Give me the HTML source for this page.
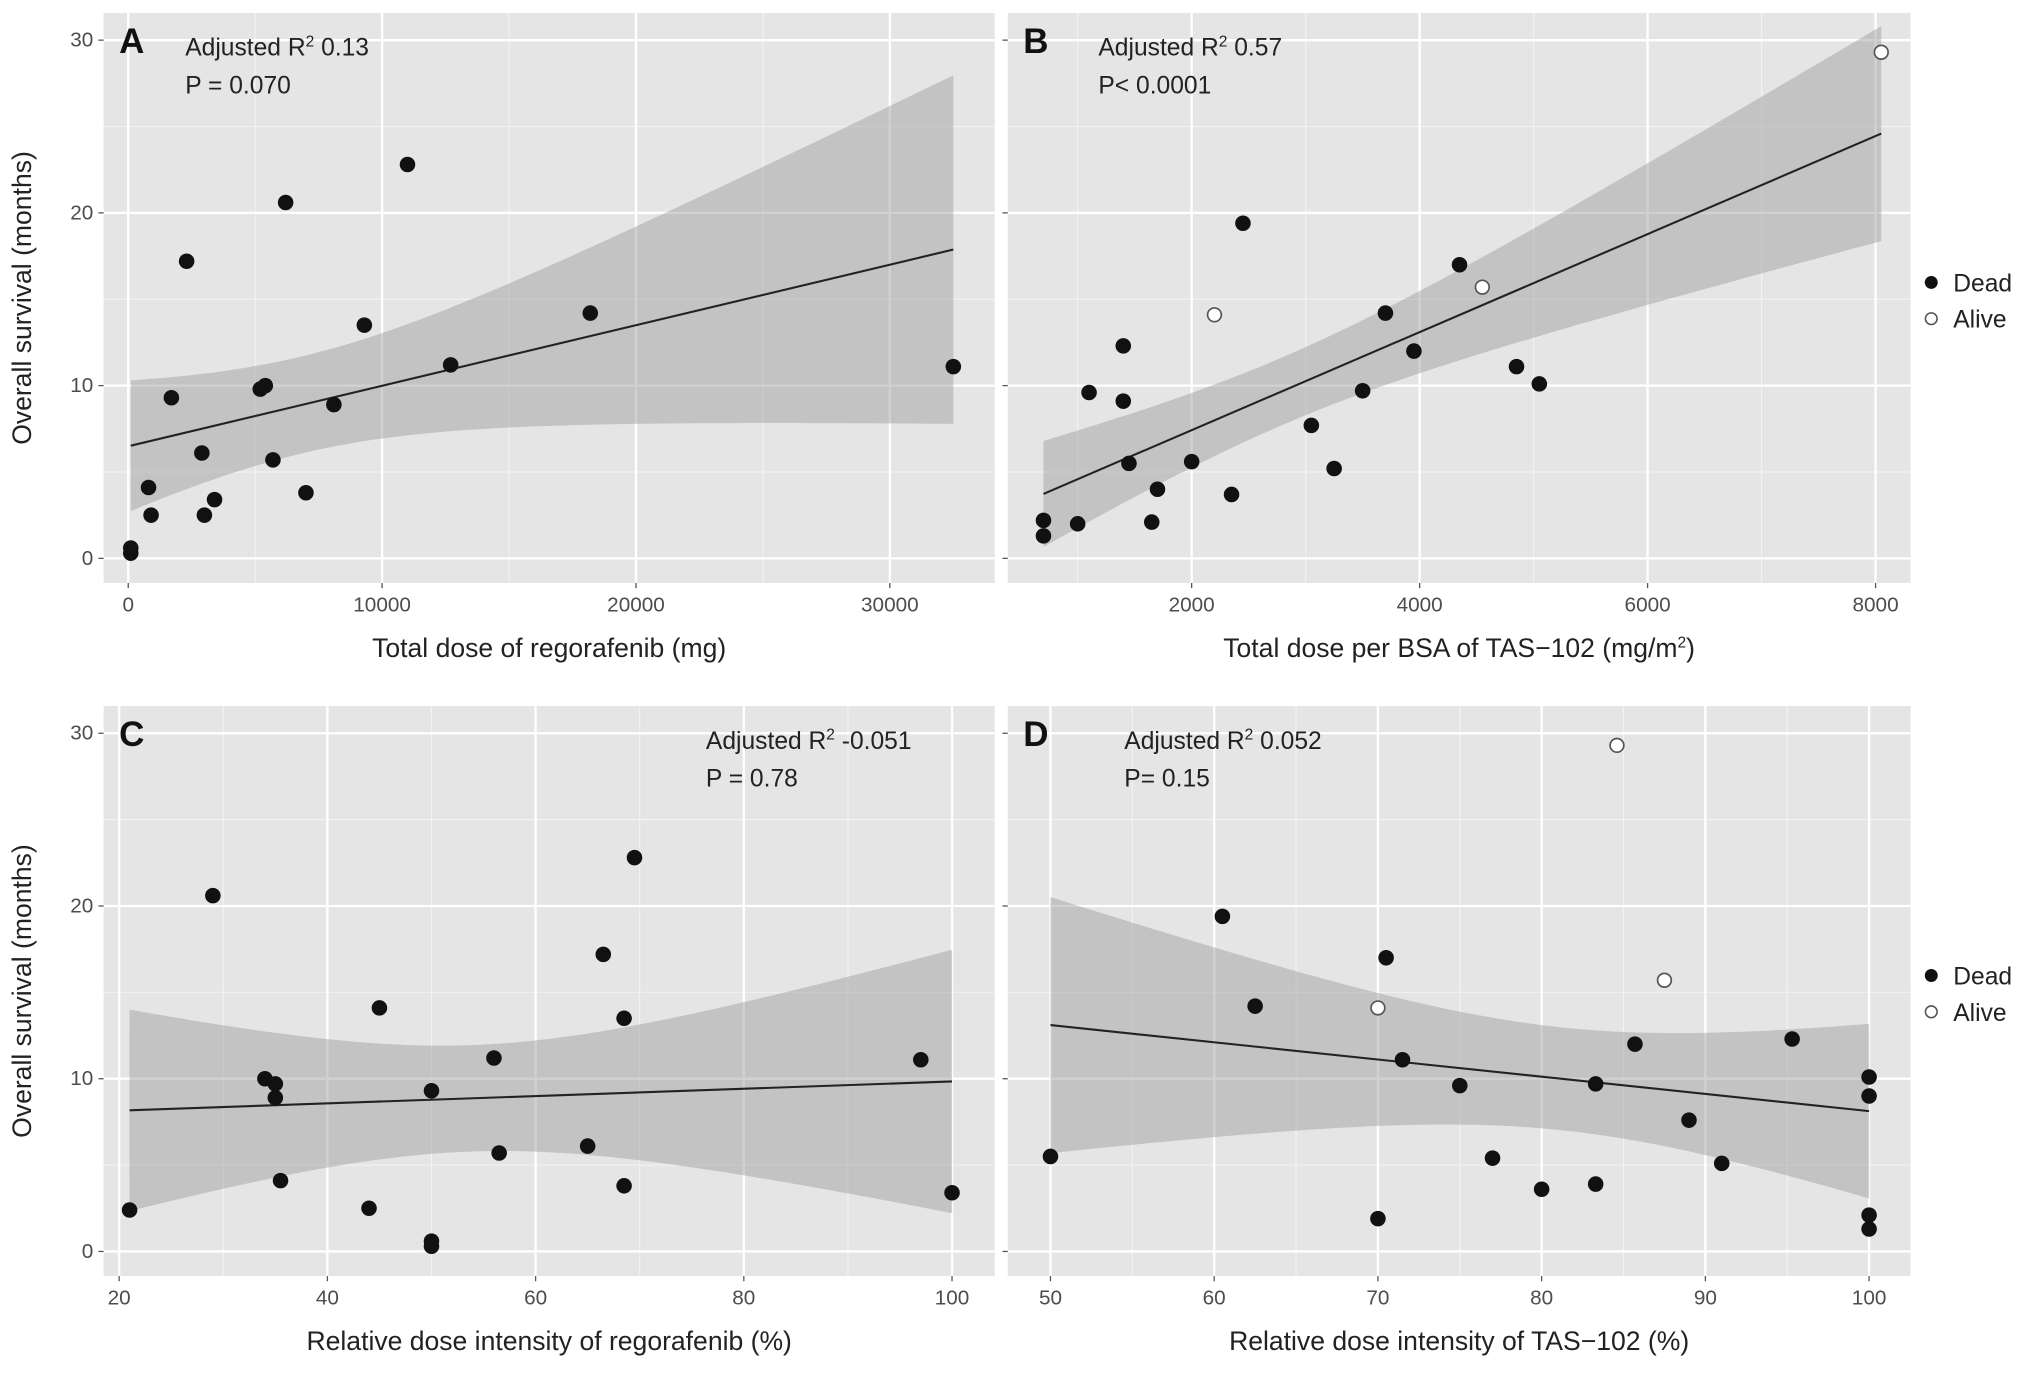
<!DOCTYPE html>
<html><head><meta charset="utf-8"><style>
html,body{margin:0;padding:0;background:#fff;}
svg{display:block;font-family:"Liberation Sans",sans-serif;}
</style></head><body>
<svg id="fig" width="2031" height="1381" viewBox="0 0 1568 1066" preserveAspectRatio="none" xmlns="http://www.w3.org/2000/svg"></svg>
<script>
// ---- Data ----
const aDeadX = [100,100,800,900,1700,2300,2900,3000,3400,5200,5400,5700,6200,7000,8100,9300,11000,12700,18200,32500];
const aDeadY = [0.6,0.3,4.1,2.5,9.3,17.2,6.1,2.5,3.4,9.8,10.0,5.7,20.6,3.8,8.9,13.5,22.8,11.2,14.2,11.1];
const bDeadX = [700,700,1000,1100,1400,1400,1450,1650,1700,2000,2350,2450,3050,3250,3500,3700,3950,4350,4850,5050];
const bDeadY = [2.2,1.3,2.0,9.6,9.1,12.3,5.5,2.1,4.0,5.6,3.7,19.4,7.7,5.2,9.7,14.2,12.0,17.0,11.1,10.1];
const bAliveX = [2200,4550,8050];
const bAliveY = [14.1,15.7,29.3];
const cDeadX = [21,29,34,35,35,35.5,44,45,50,50,50,56,56.5,65,66.5,68.5,68.5,69.5,97,100];
const cDeadY = [2.4,20.6,10.0,9.7,8.9,4.1,2.5,14.1,9.3,0.6,0.3,11.2,5.7,6.1,17.2,13.5,3.8,22.8,11.1,3.4];
const dDeadX = [50,60.5,62.5,70,70.5,71.5,75,77,80,83.3,83.3,85.7,89,91,95.3,100,100,100,100];
const dDeadY = [5.5,19.4,14.2,1.9,17.0,11.1,9.6,5.4,3.6,3.9,9.7,12.0,7.6,5.1,12.3,10.1,9.0,2.1,1.3];
const dAliveX = [70,84.6,87.5];
const dAliveY = [14.1,29.3,15.7];
const yTicks = [0,10,20,30];
const aXTicks = [0,10000,20000,30000];
const bXTicks = [2000,4000,6000,8000];
const cXTicks = [20,40,60,80,100];
const dXTicks = [50,60,70,80,90,100];

const NS="http://www.w3.org/2000/svg";
const svg=document.getElementById('fig');
function mk(tag,attrs,parent,name,inter){const e=document.createElementNS(NS,tag);for(const k in attrs)e.setAttribute(k,attrs[k]);


(parent||svg).appendChild(e);return e;}

function panel(o){
  const g=mk('g',{},svg,'panel-'+o.letter.toLowerCase());
  const xs=v=>o.x0px+(v-o.x0)*(o.x1px-o.x0px)/(o.x1-o.x0);
  const ys=v=>o.y0px-(v)*(o.y0px-o.y30px)/30;
  mk('rect',{x:o.L,y:o.T,width:o.R-o.L,height:o.B-o.T,fill:'#e5e5e5'},g,'plot-background');
  for(let v=5;v<30;v+=10) mk('line',{x1:o.L,x2:o.R,y1:ys(v),y2:ys(v),stroke:'#f2f2f2','stroke-width':0.9},g,'minor-gridline');
  for(let i=0;i<o.ticks.length+1;i++){const st=o.ticks[1]-o.ticks[0];const v=o.ticks[0]+st*(i-0.5);const p=xs(v);if(p>o.L&&p<o.R)mk('line',{x1:p,x2:p,y1:o.T,y2:o.B,stroke:'#f2f2f2','stroke-width':0.9},g,'minor-gridline');}
  yTicks.forEach(v=>{mk('line',{x1:o.L,x2:o.R,y1:ys(v),y2:ys(v),stroke:'#fff','stroke-width':1.8},g,'y-gridline');
    mk('line',{x1:o.L-4,x2:o.L,y1:ys(v),y2:ys(v),stroke:'#555','stroke-width':1},g,'y-tick');
    if(o.ylabels){const t=mk('text',{x:o.L-8,y:ys(v)+5,'text-anchor':'end','font-size':16,fill:'#4d4d4d'},g,'y-tick-label');t.textContent=v;}});
  o.ticks.forEach(v=>{const p=xs(v);mk('line',{x1:p,x2:p,y1:o.T,y2:o.B,stroke:'#fff','stroke-width':1.8},g,'x-gridline');
    mk('line',{x1:p,x2:p,y1:o.B,y2:o.B+4,stroke:'#555','stroke-width':1},g,'x-tick');
    const t=mk('text',{x:p,y:o.B+22,'text-anchor':'middle','font-size':16,fill:'#4d4d4d'},g,'x-tick-label');t.textContent=v;});
  const X=o.dx.concat(o.ax||[]),Y=o.dy.concat(o.ay||[]);const n=X.length;
  const mx=X.reduce((a,b)=>a+b)/n,my=Y.reduce((a,b)=>a+b)/n;
  let sxx=0,sxy=0;for(let i=0;i<n;i++){sxx+=(X[i]-mx)**2;sxy+=(X[i]-mx)*(Y[i]-my);}
  const b=sxy/sxx,a=my-b*mx;let sse=0;for(let i=0;i<n;i++)sse+=(Y[i]-a-b*X[i])**2;
  const s=Math.sqrt(sse/(n-2)),t=1.96+2.4/(n-2);
  const xmin=Math.min(...X),xmax=Math.max(...X);
  const up=[],lo=[];for(let k=0;k<=80;k++){const x=xmin+(xmax-xmin)*k/80;const f=a+b*x;const h=t*s*Math.sqrt(1/n+(x-mx)**2/sxx);
    up.push(xs(x).toFixed(1)+','+ys(f+h).toFixed(1));lo.unshift(xs(x).toFixed(1)+','+ys(f-h).toFixed(1));}
  mk('polygon',{points:up.concat(lo).join(' '),fill:'#999','fill-opacity':0.45},g,'confidence-band');
  mk('line',{x1:xs(xmin),y1:ys(a+b*xmin),x2:xs(xmax),y2:ys(a+b*xmax),stroke:'#222','stroke-width':1.6},g,'regression-line');
  o.dx.forEach((x,i)=>mk('circle',{cx:xs(x),cy:ys(o.dy[i]),r:6,fill:'#111'},g,'dead-point'));
  (o.ax||[]).forEach((x,i)=>mk('circle',{cx:xs(x),cy:ys(o.ay[i]),r:5.3,fill:'#fff',stroke:'#555','stroke-width':1.3},g,'alive-point'));
  const L=mk('text',{x:o.L+12,y:o.T+31,'font-size':27,'font-weight':'bold',fill:'#111'},g,'panel-letter');L.textContent=o.letter;
  const r1=mk('text',{x:o.annX,y:o.T+33,'font-size':19,fill:'#222'},g,'adjusted-r2-annotation');
  r1.innerHTML='Adjusted R<tspan font-size="12" dy="-7">2</tspan><tspan dy="7"> '+o.r2+'</tspan>';
  const p1=mk('text',{x:o.annX,y:o.T+62,'font-size':19,fill:'#222'},g,'p-value-annotation');p1.textContent=o.p;
  const xt=mk('text',{x:(o.L+o.R)/2,y:o.B+57,'text-anchor':'middle','font-size':20.5,fill:'#222'},g,'x-axis-title');xt.innerHTML=o.xtitle;
  if(o.ylabels){const yt=mk('text',{x:0,y:0,transform:`translate(24,${(o.T+o.B)/2}) rotate(-90)`,'text-anchor':'middle','font-size':20.5,fill:'#222'},g,'y-axis-title');yt.textContent='Overall survival (months)';}
  if(o.legend){const lg=mk('g',{},g,'legend');
    mk('circle',{cx:1491,cy:o.T+208,r:5,fill:'#111'},lg,'legend-dead-key');
    const t1=mk('text',{x:1508,y:o.T+215,'font-size':19,fill:'#222'},lg,'legend-dead-label');t1.textContent='Dead';
    mk('circle',{cx:1491,cy:o.T+236,r:4.5,fill:'#fff',stroke:'#555','stroke-width':1.2},lg,'legend-alive-key');
    const t2=mk('text',{x:1508,y:o.T+243,'font-size':19,fill:'#222'},lg,'legend-alive-label');t2.textContent='Alive';}
}
panel({letter:'A',L:80,R:768,T:10,B:450,x0:0,x1:30000,x0px:99,x1px:687,y0px:431,y30px:31,ticks:aXTicks,dx:aDeadX,dy:aDeadY,ylabels:true,annX:143,r2:'0.13',p:'P = 0.070',xtitle:'Total dose of regorafenib (mg)'});
panel({letter:'B',L:778,R:1475,T:10,B:450,x0:2000,x1:8000,x0px:920,x1px:1448,y0px:431,y30px:31,ticks:bXTicks,dx:bDeadX,dy:bDeadY,ax:bAliveX,ay:bAliveY,annX:848,r2:'0.57',p:'P< 0.0001',legend:true,xtitle:'Total dose per BSA of TAS−102  (mg/m<tspan font-size="12" dy="-7">2</tspan><tspan dy="7">)</tspan>'});
panel({letter:'C',L:80,R:768,T:545,B:985,x0:20,x1:100,x0px:92,x1px:735,y0px:966,y30px:566,ticks:cXTicks,dx:cDeadX,dy:cDeadY,ylabels:true,annX:545,r2:'-0.051',p:'P = 0.78',xtitle:'Relative dose intensity of regorafenib (%)'});
panel({letter:'D',L:778,R:1475,T:545,B:985,x0:50,x1:100,x0px:811,x1px:1443,y0px:966,y30px:566,ticks:dXTicks,dx:dDeadX,dy:dDeadY,ax:dAliveX,ay:dAliveY,annX:868,r2:'0.052',p:'P= 0.15',legend:true,xtitle:'Relative dose intensity of TAS−102 (%)'});
</script>
</body></html>
